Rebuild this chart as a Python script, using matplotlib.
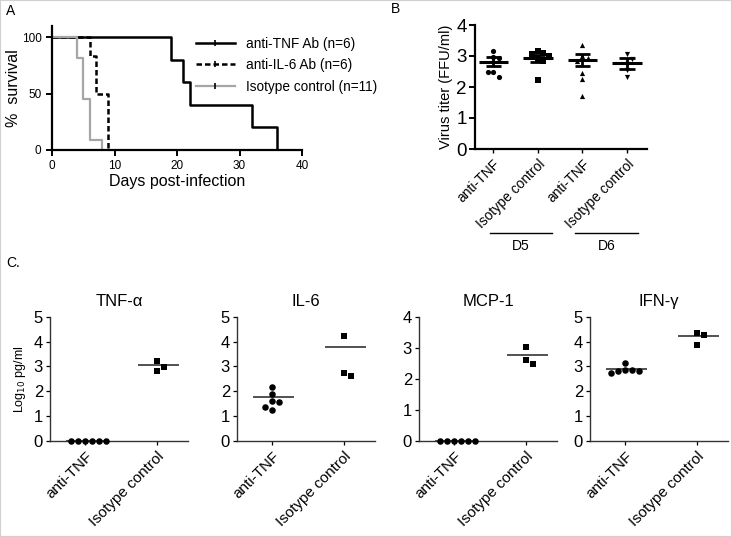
import numpy as np
import matplotlib
matplotlib.use("Agg")
import matplotlib.pyplot as plt
from matplotlib.lines import Line2D
from matplotlib.patches import Rectangle

plt.rcParams['font.family'] = ['Liberation Sans', 'DejaVu Sans']

# ---- panel A: survival curves ----
tnf_days = [0, 19, 21, 22, 32, 36]
tnf_surv = [100, 80, 60, 40, 20, 0]
il6_days = [0, 6, 7, 9]
il6_surv = [100, 83.3, 50, 0]
iso_days = [0, 4, 5, 6, 8]
iso_surv = [100, 81.8, 45.5, 9.1, 0]
surv_labels = ['anti-TNF Ab (n=6)', 'anti-IL-6 Ab (n=6)', 'Isotype control (n=11)']

# ---- panel B: virus titer ----
b_labels = ['anti-TNF', 'Isotype control', 'anti-TNF', 'Isotype control']
b_groups = ['D5', 'D6']
b_d5_tnf = [3.17, 2.98, 2.95, 2.47, 2.33, 2.47]
b_d5_iso = [3.15, 3.1, 3.05, 3.0, 2.9, 2.85, 2.22]
b_d6_tnf = [3.35, 3.0, 2.95, 2.85, 2.44, 2.26, 1.7]
b_d6_iso = [3.05, 2.9, 2.75, 2.55, 2.33]
b_mean = [2.82, 2.92, 2.87, 2.76]
b_sem = [0.15, 0.1, 0.2, 0.18]

# ---- panel C: cytokines ----
c_titles = ['TNF-\u03b1', 'IL-6', 'MCP-1', 'IFN-\u03b3']
c_labels = ['anti-TNF', 'Isotype control']
c_anti = [
    [0, 0, 0, 0, 0, 0],
    [2.18, 1.9, 1.62, 1.57, 1.37, 1.24],
    [0, 0, 0, 0, 0, 0],
    [3.15, 2.85, 2.85, 2.8, 2.8, 2.72],
]
c_iso = [
    [3.23, 2.98, 2.82],
    [4.22, 2.72, 2.61],
    [3.02, 2.61, 2.46],
    [4.35, 4.27, 3.85],
]
c_lines = [[0, 3.05], [1.75, 3.76], [0, 2.77], [2.88, 4.23]]
c_ymax = [5, 5, 4, 5]

W, H = 732, 537
fig = plt.figure(figsize=(W / 100, H / 100), dpi=100)


def rect(l, t, r, b):
    return [l / W, 1 - b / H, (r - l) / W, (b - t) / H]


def swarm(ax, vals, gap):
    # simple beeswarm: returns x offsets in data units
    x0, x1 = ax.get_xlim()
    y0, y1 = ax.get_ylim()
    bb = ax.get_position()
    sx = bb.width * W / (x1 - x0)
    sy = bb.height * H / (y1 - y0)
    cands = [0]
    for i in range(1, 20):
        cands += [i, -i]
    placed, offs = [], []
    for v in vals:
        for c in cands:
            ox = c * gap
            if all(np.hypot(ox - px, (v - pv) * sy) >= gap * 0.95 for px, pv in placed):
                break
        placed.append((ox, v))
        offs.append(ox)
    offs = np.array(offs, dtype=float)
    return offs / sx


def style(ax, lw):
    for s in ['top', 'right']:
        ax.spines[s].set_visible(False)
    for s in ['left', 'bottom']:
        ax.spines[s].set_linewidth(lw)


# ---------------- A ----------------
axA = fig.add_axes(rect(52, 26, 302, 150))
style(axA, 1.6)
axA.step(tnf_days, tnf_surv, where='post', color='black', lw=1.8)
axA.step(il6_days, il6_surv, where='post', color='black', lw=1.8, ls=(0, (2.2, 1.2)))
axA.step(iso_days, iso_surv, where='post', color='#a6a6a6', lw=1.6)
axA.set_xlim(0, 40)
axA.set_ylim(0, 110)
axA.set_xticks([0, 10, 20, 30, 40])
axA.set_yticks([0, 50, 100])
axA.tick_params(labelsize=8.5, width=1.4, length=4)
axA.set_xlabel('Days post-infection', fontsize=11.5, labelpad=1)
axA.set_ylabel('%  survival', fontsize=11.5)
axA.yaxis.set_label_coords(-0.125, 0.5)
handles = [
    Line2D([], [], color='black', lw=1.8, marker='|', ms=5, mew=1.2),
    Line2D([], [], color='black', lw=1.8, ls=(0, (2.2, 1.2)), marker='|', ms=5, mew=1.2),
    Line2D([], [], color='#a6a6a6', lw=1.6, marker='|', mec='black', ms=5, mew=1.2),
]
axA.legend(handles, surv_labels, loc='upper left', bbox_to_anchor=(0.575, 0.915),
           frameon=False, fontsize=9.8, handlelength=2.9, handletextpad=0.8,
           labelspacing=0.55, borderpad=0, borderaxespad=0, numpoints=1)

# ---------------- B ----------------
axB = fig.add_axes(rect(475, 25, 647, 149))
style(axB, 1.6)
axB.set_xlim(-0.41, 3.45)
axB.set_ylim(0, 4)
b_vals = [b_d5_tnf, b_d5_iso, b_d6_tnf, b_d6_iso]
b_marks = ['o', 's', '^', 'v']
for i, vals in enumerate(b_vals):
    off = swarm(axB, vals, 5.5)
    axB.scatter(i + off, vals, marker=b_marks[i], s=14, color='black', lw=0, zorder=3)
    m, e = b_mean[i], b_sem[i]
    axB.hlines(m, i - 0.33, i + 0.33, color='black', lw=2.2, zorder=4)
    axB.hlines([m - e, m + e], i - 0.17, i + 0.17, color='black', lw=2.0, zorder=4)
    axB.vlines(i, m - e, m + e, color='black', lw=2.0, zorder=4)
axB.set_xticks(range(4))
axB.set_xticklabels(b_labels, rotation=45, ha='right', rotation_mode='anchor', fontsize=10)
axB.set_yticks([0, 1, 2, 3, 4])
axB.tick_params(axis='y', labelsize=13.5, width=1.4, length=4, pad=2)
axB.tick_params(axis='x', width=1.0, length=3, pad=3)
axB.set_ylabel('Virus titer (FFU/ml)', fontsize=10.5, labelpad=2)
tr = axB.get_xaxis_transform()
for g, (a, b) in enumerate([(-0.07, 1.32), (1.84, 3.25)]):
    axB.plot([a, b], [-0.68, -0.68], transform=tr, color='black', lw=1.0, clip_on=False)
    axB.text((a + b) / 2, -0.725, b_groups[g], transform=tr, ha='center', va='top', fontsize=10)

# ---------------- C ----------------
lefts = [50, 237, 419, 590]
for k in range(4):
    ax = fig.add_axes(rect(lefts[k], 316.7, lefts[k] + 138, 440.7))
    style(ax, 1.0)
    ax.spines['left'].set_color('#333333')
    ax.spines['bottom'].set_color('#333333')
    ax.set_xlim(-0.49, 1.43)
    ax.set_ylim(0, c_ymax[k])
    off = swarm(ax, c_anti[k], 7)
    ax.scatter(0 + off, c_anti[k], marker='o', s=22, color='black', lw=0, zorder=3, clip_on=False)
    off = swarm(ax, c_iso[k], 7)
    ax.scatter(1 + off, c_iso[k], marker='s', s=20, color='black', lw=0, zorder=3, clip_on=False)
    for i in range(2):
        ax.hlines(c_lines[k][i], i - 0.27, i + 0.3, color='#222222', lw=1.1, zorder=2)
    ax.set_xticks([0, 1])
    ax.set_xticklabels(c_labels, rotation=45, ha='right', rotation_mode='anchor', fontsize=11)
    ax.set_yticks(range(c_ymax[k] + 1))
    ax.tick_params(axis='y', labelsize=12, width=0.9, length=3, pad=2)
    ax.tick_params(axis='x', width=0.9, length=3, pad=3)
    ax.set_title(c_titles[k], fontsize=12, pad=8)
    if k == 0:
        ax.set_ylabel('Log$_{10}$ pg/ml', fontsize=9, labelpad=4)

fig.text(6 / W, 1 - 4 / H, 'A', fontsize=10, va='top')
fig.text(391 / W, 1 - 2 / H, 'B', fontsize=10, va='top')
fig.text(6 / W, 1 - 256 / H, 'C.', fontsize=10, va='top')
fig.add_artist(Rectangle((0, 0), 1, 1, transform=fig.transFigure, fill=False,
                         edgecolor='#d0d0d0', lw=1.5))

fig.savefig('out.png', dpi=100)
